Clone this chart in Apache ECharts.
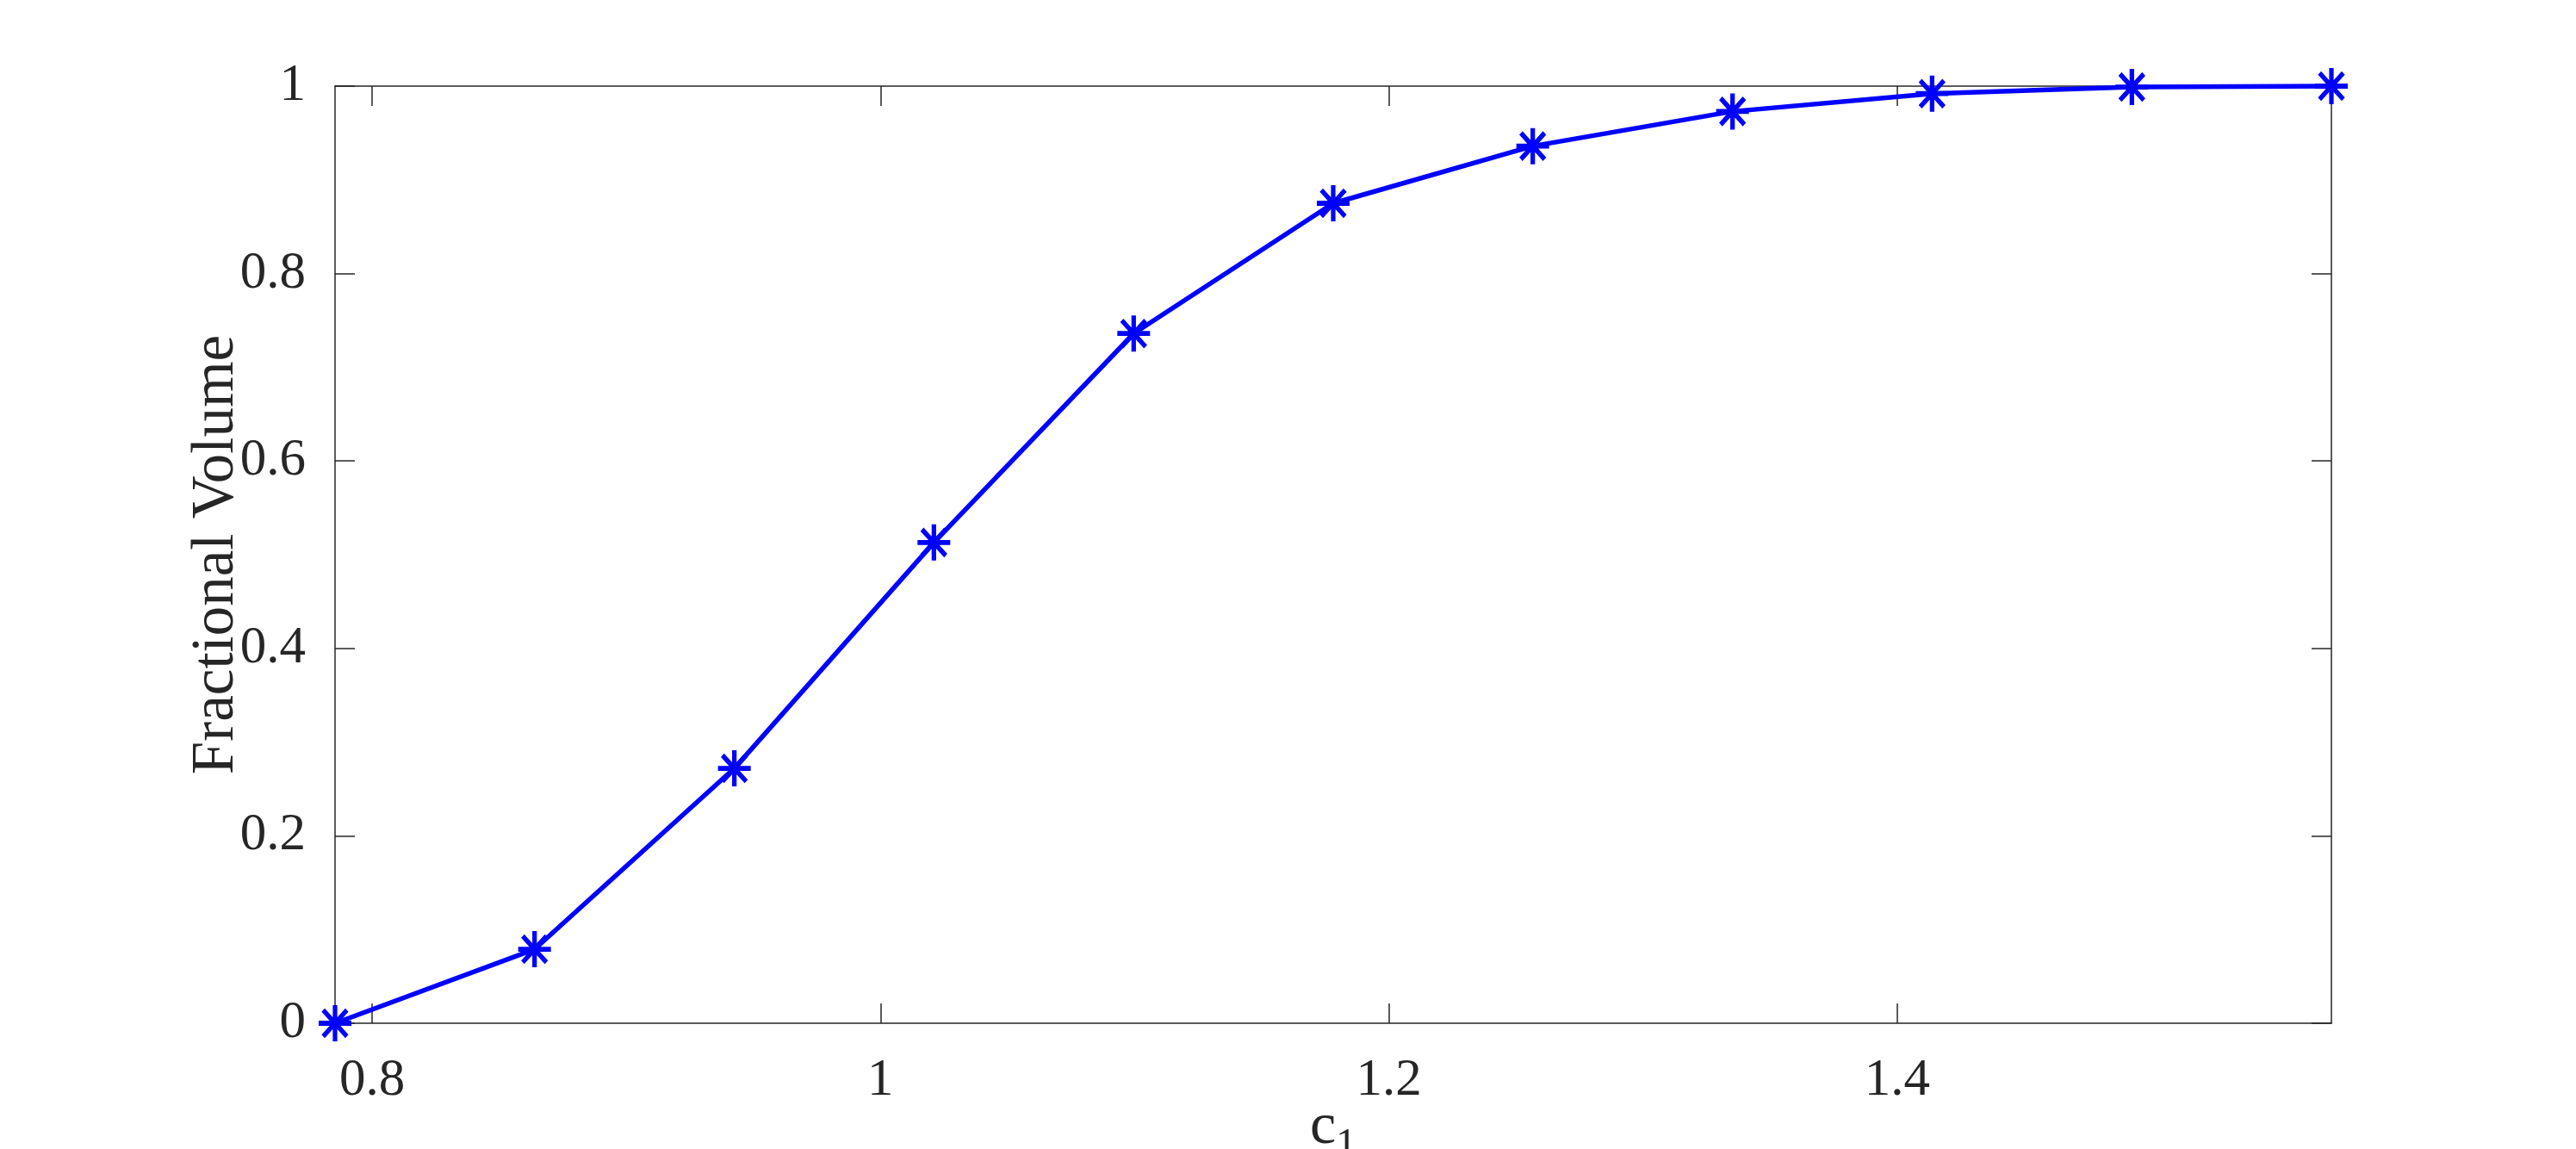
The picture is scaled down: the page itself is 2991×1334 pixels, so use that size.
<!DOCTYPE html>
<html>
<head>
<meta charset="utf-8">
<script src="https://cdn.jsdelivr.net/npm/echarts@6/dist/echarts.min.js"></script>
<style>
    html, body { margin:0; padding:0; background:#fff; }
    #volumeChart { width:2991px; height:1334px; }
</style>
</head>
<body>
<div id="volumeChart"></div>
<script>
    // c1 sample points (pi/4 .. pi/2)
    const c1Values = [0.7854, 0.8639, 0.9425, 1.0210, 1.0996, 1.1781, 1.2566, 1.3352, 1.4137, 1.4923, 1.5708];
    const fractionalVolume = [0, 0.079, 0.272, 0.513, 0.736, 0.875, 0.936, 0.973, 0.992, 0.999, 1.0];
    const xTicks = [0.8, 1, 1.2, 1.4];
    const xMin = 0.7854, xMax = 1.5708;
    const yMin = 0, yMax = 1, yStep = 0.2;

    const axisColor = '#262626';
    const serif = 'Liberation Serif';
    // asterisk marker, drawn as strokes
    const star = 'path://M20 0L20 40M0 20L40 20M5.5 5.5L34.5 34.5M34.5 5.5L5.5 34.5';

    let myChart = echarts.init(document.getElementById('volumeChart'));

    let xCommon = {
        type:'value',
        min:xMin,
        max:xMax,
        axisLine:{show:true, onZero:false, lineStyle:{color:axisColor, width:1.5}},
        axisTick:{show:true, inside:true, length:23, customValues:xTicks, lineStyle:{color:axisColor, width:1.5}},
        splitLine:{show:false}
    };
    let yCommon = {
        type:'value',
        min:yMin,
        max:yMax,
        interval:yStep,
        axisLine:{show:true, onZero:false, lineStyle:{color:axisColor, width:1.5}},
        axisTick:{show:true, inside:true, length:23, lineStyle:{color:axisColor, width:1.5}},
        splitLine:{show:false}
    };

    let option = {
        animation:false,
        grid:{left:389, top:100, right:284, bottom:146, containLabel:false, outerBoundsMode:'none'},
        xAxis:[
            Object.assign({}, xCommon, {
                position:'bottom',
                name:'{a|c}{b|1}',
                nameLocation:'middle',
                nameGap:76,
                nameMoveOverlap:false,
                nameTextStyle:{
                    rich:{
                        a:{fontFamily:serif, fontSize:68, color:axisColor, lineHeight:90, verticalAlign:'middle'},
                        b:{fontFamily:serif, fontSize:48, color:axisColor, lineHeight:48, verticalAlign:'bottom'}
                    }
                },
                axisLabel:{
                    show:true,
                    customValues:xTicks,
                    margin:36,
                    fontFamily:serif,
                    fontSize:61,
                    color:axisColor,
                    formatter:function (v) { return String(v); }
                }
            }),
            Object.assign({}, xCommon, {
                position:'top',
                axisLabel:{show:false}
            })
        ],
        yAxis:[
            Object.assign({}, yCommon, {
                position:'left',
                name:'Fractional Volume',
                nameLocation:'middle',
                nameGap:103,
                nameMoveOverlap:false,
                nameTextStyle:{fontFamily:serif, fontSize:69, color:axisColor},
                axisLabel:{show:true, margin:34, fontFamily:serif, fontSize:61, color:axisColor}
            }),
            Object.assign({}, yCommon, {
                position:'right',
                axisLabel:{show:false}
            })
        ],
        series:[
            {
                type:'line',
                xAxisIndex:0,
                yAxisIndex:0,
                data:c1Values.map((x, i) => [x, fractionalVolume[i]]),
                lineStyle:{color:'#0000ff', width:5.5},
                symbol:star,
                symbolSize:[38, 42],
                itemStyle:{color:'#0000ff', borderColor:'#0000ff', borderWidth:5.5},
                emphasis:{disabled:true},
                clip:false,
                z:5
            }
        ]
    };

    myChart.setOption(option);
</script>
</body>
</html>
